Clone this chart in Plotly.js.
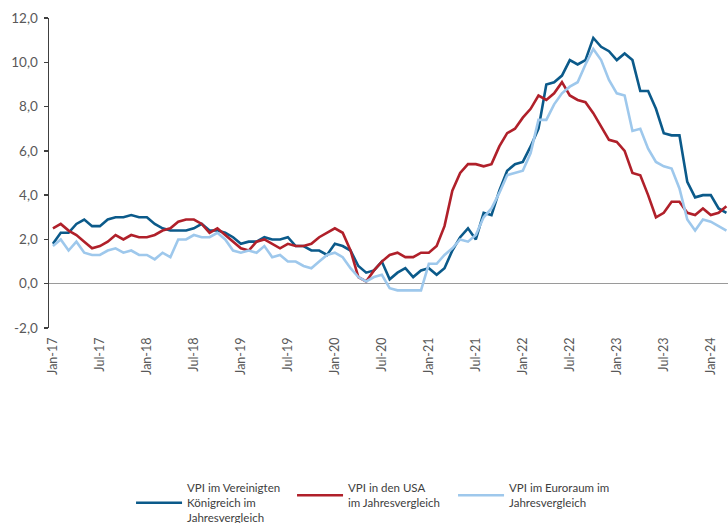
<!DOCTYPE html>
<html>
<head>
<meta charset="utf-8">
<script src="https://cdn.plot.ly/plotly-3.0.1.min.js"></script>
<style>
  html, body { margin: 0; padding: 0; background: #ffffff; }
  #chart { width: 728px; height: 523px; }
</style>
</head>
<body>
<div id="chart"></div>
<script>
// Month categories Jan-17 .. Mar-24
const monthNames = ["Jan","Feb","Mar","Apr","May","Jun","Jul","Aug","Sep","Oct","Nov","Dec"];
const years = ["17","18","19","20","21","22","23","24"];
const months = [];
years.forEach(function (y) {
  monthNames.forEach(function (m) { months.push(m + "-" + y); });
});
months.length = 87; // through Mar-24

// UK CPI y/y (%)
const ukCPI = [
  1.8, 2.3, 2.3, 2.7, 2.9, 2.6, 2.6, 2.9, 3.0, 3.0, 3.1, 3.0,
  3.0, 2.7, 2.5, 2.4, 2.4, 2.4, 2.5, 2.7, 2.4, 2.4, 2.3, 2.1,
  1.8, 1.9, 1.9, 2.1, 2.0, 2.0, 2.1, 1.7, 1.7, 1.5, 1.5, 1.3,
  1.8, 1.7, 1.5, 0.8, 0.5, 0.6, 1.0, 0.2, 0.5, 0.7, 0.3, 0.6,
  0.7, 0.4, 0.7, 1.5, 2.1, 2.5, 2.0, 3.2, 3.1, 4.2, 5.1, 5.4,
  5.5, 6.2, 7.0, 9.0, 9.1, 9.4, 10.1, 9.9, 10.1, 11.1, 10.7, 10.5,
  10.1, 10.4, 10.1, 8.7, 8.7, 7.9, 6.8, 6.7, 6.7, 4.6, 3.9, 4.0,
  4.0, 3.4, 3.2
];

// US CPI y/y (%)
const usCPI = [
  2.5, 2.7, 2.4, 2.2, 1.9, 1.6, 1.7, 1.9, 2.2, 2.0, 2.2, 2.1,
  2.1, 2.2, 2.4, 2.5, 2.8, 2.9, 2.9, 2.7, 2.3, 2.5, 2.2, 1.9,
  1.6, 1.5, 1.9, 2.0, 1.8, 1.6, 1.8, 1.7, 1.7, 1.8, 2.1, 2.3,
  2.5, 2.3, 1.5, 0.3, 0.1, 0.6, 1.0, 1.3, 1.4, 1.2, 1.2, 1.4,
  1.4, 1.7, 2.6, 4.2, 5.0, 5.4, 5.4, 5.3, 5.4, 6.2, 6.8, 7.0,
  7.5, 7.9, 8.5, 8.3, 8.6, 9.1, 8.5, 8.3, 8.2, 7.7, 7.1, 6.5,
  6.4, 6.0, 5.0, 4.9, 4.0, 3.0, 3.2, 3.7, 3.7, 3.2, 3.1, 3.4,
  3.1, 3.2, 3.5
];

// Euro area HICP y/y (%)
const euroHICP = [
  1.7, 2.0, 1.5, 1.9, 1.4, 1.3, 1.3, 1.5, 1.6, 1.4, 1.5, 1.3,
  1.3, 1.1, 1.4, 1.2, 2.0, 2.0, 2.2, 2.1, 2.1, 2.3, 2.0, 1.5,
  1.4, 1.5, 1.4, 1.7, 1.2, 1.3, 1.0, 1.0, 0.8, 0.7, 1.0, 1.3,
  1.4, 1.2, 0.7, 0.3, 0.1, 0.3, 0.4, -0.2, -0.3, -0.3, -0.3, -0.3,
  0.9, 0.9, 1.3, 1.6, 2.0, 1.9, 2.2, 3.0, 3.4, 4.1, 4.9, 5.0,
  5.1, 5.9, 7.4, 7.4, 8.1, 8.6, 8.9, 9.1, 9.9, 10.6, 10.1, 9.2,
  8.6, 8.5, 6.9, 7.0, 6.1, 5.5, 5.3, 5.2, 4.3, 2.9, 2.4, 2.9,
  2.8, 2.6, 2.4
];

const seriesNames = [
  "VPI im Vereinigten<br>Königreich im<br>Jahresvergleich",
  "VPI in den USA<br>im Jahresvergleich",
  "VPI im Euroraum im<br>Jahresvergleich"
];

const xTickLabels = ["Jan-17","Jul-17","Jan-18","Jul-18","Jan-19","Jul-19","Jan-20","Jul-20",
                     "Jan-21","Jul-21","Jan-22","Jul-22","Jan-23","Jul-23","Jan-24"];
const yTickVals = [-2, 0, 2, 4, 6, 8, 10, 12];
const yTickLabels = ["-2,0","0,0","2,0","4,0","6,0","8,0","10,0","12,0"];

const colors = ["#0b5a8a", "#b0202a", "#9ec8ec"];
const seriesData = [ukCPI, usCPI, euroHICP];

const traces = seriesData.map(function (vals, i) {
  return {
    type: "scatter",
    mode: "lines",
    x: months,
    y: vals,
    name: seriesNames[i],
    line: { color: colors[i], width: 2.6 },
    hoverinfo: "x+y"
  };
});

const fontFam = "Lato, 'Noto Sans', sans-serif";

const layout = {
  width: 728,
  height: 523,
  margin: { l: 49, r: 0, t: 18, b: 195, pad: 0 },
  paper_bgcolor: "#ffffff",
  plot_bgcolor: "#ffffff",
  font: { family: fontFam, color: "#595959", size: 12 },
  showlegend: true,
  xaxis: {
    type: "category",
    range: [-0.5, 86.2],
    tickmode: "array",
    tickvals: xTickLabels,
    ticktext: xTickLabels,
    tickangle: -90,
    showgrid: false,
    showline: false,
    zeroline: false,
    ticks: "",
    ticklabelstandoff: 6,
    automargin: false,
    tickfont: { family: fontFam, size: 12.5, color: "#595959" },
    fixedrange: true
  },
  yaxis: {
    range: [-2, 12],
    tickmode: "array",
    tickvals: yTickVals,
    ticktext: yTickLabels,
    showgrid: false,
    showline: true,
    linecolor: "#404040",
    linewidth: 1.5,
    ticks: "outside",
    ticklen: 4,
    tickwidth: 1.5,
    tickcolor: "#404040",
    zeroline: true,
    zerolinecolor: "#9a9a9a",
    zerolinewidth: 1.5,
    ticklabelstandoff: 3,
    automargin: false,
    tickfont: { family: fontFam, size: 13.5, color: "#595959" },
    fixedrange: true
  },
  legend: {
    orientation: "h",
    xref: "container",
    yref: "container",
    x: 0.18,
    xanchor: "left",
    y: 0.094,
    yanchor: "top",
    valign: "middle",
    itemwidth: 46,
    entrywidth: 100,
    entrywidthmode: "pixels",
    font: { family: fontFam, size: 11.5, color: "#404040" },
    bgcolor: "rgba(0,0,0,0)"
  }
};

Plotly.newPlot("chart", traces, layout, { displayModeBar: false, staticPlot: true });
</script>
</body>
</html>
